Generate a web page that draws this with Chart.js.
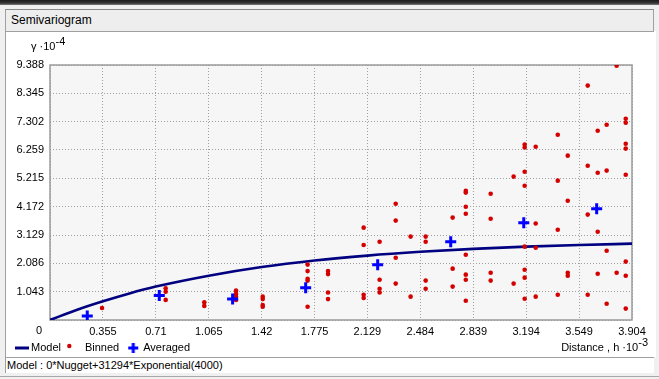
<!DOCTYPE html>
<html><head><meta charset="utf-8">
<script src="https://cdn.jsdelivr.net/npm/chart.js@4.4.1/dist/chart.umd.min.js"></script>
<style>
html,body{margin:0;padding:0;}
body{width:659px;height:379px;background:#f0f0f0;position:relative;overflow:hidden;font-family:"Liberation Sans",Arial,sans-serif;color:#000;}
#topbar{position:absolute;left:0;top:0;width:659px;height:5px;background:linear-gradient(#1c1c1c,#333 60%,#7a7a7a);}
#panel{position:absolute;left:5px;top:31px;width:650px;height:326px;background:#fff;border-left:1px solid #a0a0a0;}
#titlebox{position:absolute;left:5px;top:9px;width:647px;height:21px;background:#eeeeee;border:1px solid #a0a0a0;border-top-color:#8a8a8a;font-size:12px;line-height:21px;padding-left:5px;box-sizing:content-box;width:642px;}
#status{position:absolute;left:5px;top:357px;width:647px;height:15px;background:#fff;border-top:1px solid #a0a0a0;border-left:1px solid #a0a0a0;font-size:11px;line-height:15px;padding-left:1px;}
#bline{position:absolute;left:0;top:376px;width:659px;height:1px;background:#a8a8a8;}
canvas{position:absolute;left:0;top:0;}
.ttl{position:absolute;font-size:11px;line-height:13px;white-space:nowrap;}
.ttl span{position:relative;top:-5px;}
#ytitle{left:31px;top:40px;}
#xtitle{right:11px;top:341px;}
</style></head>
<body>
<div id="topbar"></div>
<div id="panel"></div>
<div id="titlebox">Semivariogram</div>
<div id="status">Model : 0*Nugget+31294*Exponential(4000)</div>
<div id="bline"></div>
<canvas id="c" width="659" height="379"></canvas>
<div class="ttl" id="ytitle">γ ·10<span>-4</span></div>
<div class="ttl" id="xtitle">Distance , h ·10<span>-3</span></div>
<script>
// ---- data ----
const xTickValues = [0,0.355,0.71,1.065,1.42,1.775,2.129,2.484,2.839,3.194,3.549,3.904];
const xTickLabels = ['0','0.355','0.71','1.065','1.42','1.775','2.129','2.484','2.839','3.194','3.549','3.904'];
const yTickValues = [0,1.043,2.086,3.129,4.172,5.215,6.259,7.302,8.345,9.388];
const yTickLabels = ['0','1.043','2.086','3.129','4.172','5.215','6.259','7.302','8.345','9.388'];

const modelH = [0,0.178,0.355,0.533,0.71,1.065,1.42,1.775,2.129,2.484,2.839,3.194,3.549,3.904];
const modelG = [0,0.37,0.69,0.98,1.23,1.63,1.95,2.19,2.37,2.51,2.62,2.70,2.76,2.81];

const binnedH = [0.349,
 0.776,0.776,0.776,
 1.035,1.035,
 1.248,1.248,1.248,1.248,
 1.427,1.427,1.427,1.427,
 1.728,1.728,1.728,1.728,1.728,
 1.865,1.865,1.865,1.865,
 2.104,2.104,2.104,2.104,
 2.211,2.211,2.211,2.211,
 2.319,2.319,2.319,2.319,
 2.419,2.419,
 2.520,2.520,2.520,2.520,
 2.701,2.701,2.701,
 2.789,2.789,2.789,2.789,2.789,2.789,2.789,2.789,
 2.956,2.956,2.956,2.956,
 3.110,3.110,
 3.184,3.184,3.184,3.184,3.184,3.184,3.184,3.184,
 3.258,3.258,3.258,3.258,
 3.406,3.406,3.406,3.406,
 3.473,3.473,3.473,3.473,
 3.607,3.607,3.607,3.607,
 3.674,3.674,3.674,3.674,
 3.734,3.734,3.734,3.734,
 3.801,3.801,
 3.862,3.862,3.862,3.862,3.862,3.862,3.862,3.862];
const binnedG = [0.44,
 1.17,1.04,0.74,
 0.65,0.52,
 1.08,0.96,0.86,0.74,
 0.86,0.77,0.55,0.49,
 2.04,1.80,1.52,1.45,0.49,
 1.80,1.69,1.01,0.77,
 3.40,2.76,0.93,0.81,
 2.88,1.48,1.15,1.01,
 4.28,3.66,2.29,1.34,
 3.07,0.86,
 3.07,2.88,1.45,1.15,
 3.77,1.89,1.23,
 4.76,4.69,4.17,3.91,2.40,1.67,1.48,0.71,
 4.65,3.73,1.74,1.45,
 5.28,1.34,
 6.46,6.35,5.46,4.94,2.70,1.85,1.56,0.78,
 6.38,3.55,2.66,0.86,
 6.82,5.13,3.32,0.93,
 6.05,4.39,1.74,1.63,
 8.63,5.68,3.88,0.93,
 6.97,5.42,3.25,1.70,
 7.19,5.50,2.55,0.60,
 9.36,1.74,
 7.41,7.26,6.49,6.31,5.35,2.15,1.63,0.42];

const avgH = [0.250,0.733,1.225,1.715,2.198,2.688,3.178,3.667];
const avgG = [0.15,0.90,0.77,1.19,2.03,2.88,3.58,4.10];

const seriesNames = ['Model','Binned','Averaged'];

// ---- legend marker images ----
function mk(w,h,draw){const c=document.createElement('canvas');c.width=w;c.height=h;const g=c.getContext('2d');draw(g);return c;}
const legLine = mk(24,6,g=>{g.strokeStyle='#000080';g.lineWidth=3;g.beginPath();g.moveTo(7,3);g.lineTo(21,3);g.stroke();});
const legDot = mk(20,10,g=>{g.fillStyle='#d40000';g.beginPath();g.arc(5.3,3,2.2,0,Math.PI*2);g.fill();});
const legCross = mk(16,16,g=>{g.strokeStyle='#0000ff';g.lineWidth=3;g.beginPath();g.moveTo(4,8);g.lineTo(14,8);g.moveTo(9,3);g.lineTo(9,13);g.stroke();});
const legImgs = [legLine,legDot,legCross];

const framePlugin = {
  id:'frame',
  beforeDraw(chart){
    const {ctx, chartArea:a} = chart;
    ctx.save(); ctx.fillStyle='#f6f6f6';
    ctx.fillRect(a.left,a.top,a.right-a.left,a.bottom-a.top); ctx.restore();
  },
  beforeDatasetsDraw(chart){
    const {ctx, chartArea:a} = chart;
    ctx.save(); ctx.strokeStyle='#9a9a9a'; ctx.lineWidth=1.5;
    ctx.strokeRect(a.left,a.top,a.right-a.left,a.bottom-a.top); ctx.restore();
  },
  afterDraw(chart){
    const {ctx, chartArea:a} = chart;
    ctx.save(); ctx.fillStyle='#000'; ctx.font='11px "Liberation Sans"';
    ctx.textAlign='center'; ctx.textBaseline='middle';
    ctx.fillText(xTickLabels[0], a.left-11, a.bottom+10.5); ctx.restore();
  }
};

Chart.defaults.font.family = '"Liberation Sans", Arial, sans-serif';
Chart.defaults.font.size = 11;
Chart.defaults.color = '#000';

new Chart(document.getElementById('c'), {
  type:'scatter',
  data:{datasets:[
    {label:seriesNames[0], data:modelH.map((h,i)=>({x:h,y:modelG[i]})), showLine:true, pointRadius:0,
     borderColor:'#000080', borderWidth:2.6, cubicInterpolationMode:'monotone', fill:false, order:3},
    {label:seriesNames[1], data:binnedH.map((h,i)=>({x:h,y:binnedG[i]})), pointStyle:'circle', pointRadius:2.3,
     backgroundColor:'#d40000', borderWidth:0, order:2},
    {label:seriesNames[2], data:avgH.map((h,i)=>({x:h,y:avgG[i]})), pointStyle:'cross', pointRadius:5.5,
     borderColor:'#0000ff', borderWidth:3, order:1}
  ]},
  options:{
    responsive:false, animation:false, events:[],
    layout:{padding:{left:7,top:65,right:27,bottom:15.5}},
    plugins:{
      tooltip:{enabled:false},
      legend:{position:'bottom', align:'start',
        labels:{usePointStyle:true, boxWidth:11, padding:7.5, color:'#000', font:{size:11},
          generateLabels:()=>seriesNames.map((n,i)=>({text:n, pointStyle:legImgs[i], datasetIndex:i, hidden:false, lineWidth:0, fillStyle:'rgba(0,0,0,0)', strokeStyle:'rgba(0,0,0,0)'}))}}
    },
    scales:{
      x:{type:'linear', min:0, max:3.904,
        afterBuildTicks:s=>{s.ticks=xTickValues.map(v=>({value:v}));},
        afterFit:s=>{s.height=15;},
        ticks:{autoSkip:false, maxRotation:0, padding:5, callback:(v,i)=>i===0?'':xTickLabels[i]},
        grid:{color:'#a0a0a0', lineWidth:1, drawTicks:false},
        border:{display:false, dash:[1,2]}},
      y:{type:'linear', min:0, max:9.388,
        afterBuildTicks:s=>{s.ticks=yTickValues.map(v=>({value:v}));},
        afterFit:s=>{s.width=43;},
        ticks:{autoSkip:false, padding:6, callback:(v,i)=>i===0?'':yTickLabels[i]},
        grid:{color:'#a0a0a0', lineWidth:1, drawTicks:false},
        border:{display:false, dash:[1,2]}}
    }
  },
  plugins:[framePlugin]
});
</script>
</body></html>
